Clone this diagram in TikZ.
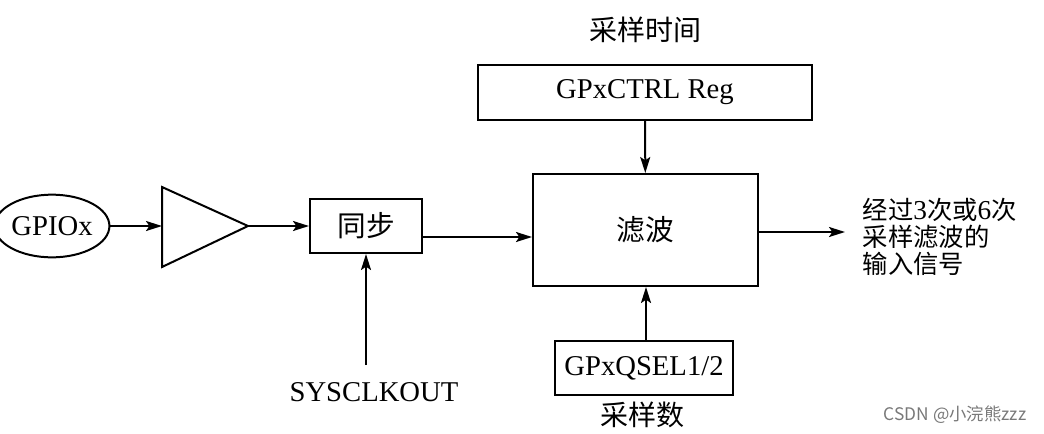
\documentclass[tikz,border=0pt]{standalone}
\usepackage{fontspec}
\setmainfont{Liberation Serif}
\newfontfamily\cjk{Noto Sans CJK SC}
\usetikzlibrary{shapes.geometric,arrows.meta}

\definecolor{wmgray}{RGB}{120,120,120}
\tikzset{
	box/.style={draw,line width=1.5pt,inner sep=0pt,font=\fontsize{21.5}{25}\selectfont},
	conn/.style={line width=1.5pt,-{Stealth[length=12pt,width=7.5pt,inset=2.5pt]}},
	cn/.style={font=\cjk\fontsize{21}{25}\selectfont}
}
\newcommand{\dg}[1]{{\rmfamily\fontsize{20.5}{20}\selectfont #1}}

\begin{document}
\begin{tikzpicture}[x=0.75pt,y=0.75pt,yscale=-1,xscale=1]
	\useasboundingbox (0,0) rectangle (1044,433);
	
	%Shape: Ellipse [id:gpio]
	\node [box,ellipse,minimum width=77pt,minimum height=47pt] (gpio) at (52,226) {GPIOx};
	%Shape: Triangle [id:amp]
	\draw [line width=1.5pt] (162,187) -- (248,226) -- (162,267) -- cycle ;
	\coordinate (ampin) at (162,226);
	\coordinate (ampout) at (248,226);
	%Shape: Rectangle [id:sync]
	\node [box,minimum width=84pt,minimum height=40.5pt] (sync) at (366,226) {\cjk 同步};
	%Shape: Rectangle [id:filter]
	\node [box,minimum width=168.75pt,minimum height=84pt] (filter) at (645.5,230) {\cjk 滤波};
	%Shape: Rectangle [id:ctrl]
	\node [box,minimum width=250.5pt,minimum height=41.25pt] (ctrl) at (645,92.5) {GPxCTRL Reg};
	%Shape: Rectangle [id:qsel]
	\node [box,minimum width=133.5pt,minimum height=40.5pt] (qsel) at (644,368) {GPxQSEL1/2};
	
	% Text Node
	\node [cn] (time) at (645,30) {采样时间};
	% Text Node
	\node [cn] (count) at (642,415) {采样数};
	% Text Node
	\node [font=\fontsize{21.5}{25}\selectfont] (sysclk) at (374,392) {SYSCLKOUT};
	\coordinate (clk) at (366,365);
	% Text Node
	\node [anchor=west,align=left,font=\cjk\fontsize{19}{20}\selectfont] (outtxt) at (858,237) {经过\dg{3}次或\dg{6}次\\采样滤波的\\输入信号};
	\coordinate (out) at (845,232);
	% Text Node
	\node [anchor=east,text=wmgray,font=\cjk\fontsize{13}{15}\selectfont] (csdn) at (1031,415) {CSDN @小浣熊zzz};
	
	% Connectors
	\draw [conn] (gpio) -- (ampin);
	\draw [conn] (ampout) -- (sync);
	\draw [conn] ([yshift=8.25pt]sync.east) -- ([yshift=8.25pt]sync.east -| filter.west);
	\draw [conn] (ctrl) -- (filter);
	\draw [conn] (qsel.north -| 646,0) -- (filter.south -| 646,0);
	\draw [conn] (clk) -- (sync);
	\draw [conn] (filter.east |- out) -- (out);
	
\end{tikzpicture}
\end{document}
